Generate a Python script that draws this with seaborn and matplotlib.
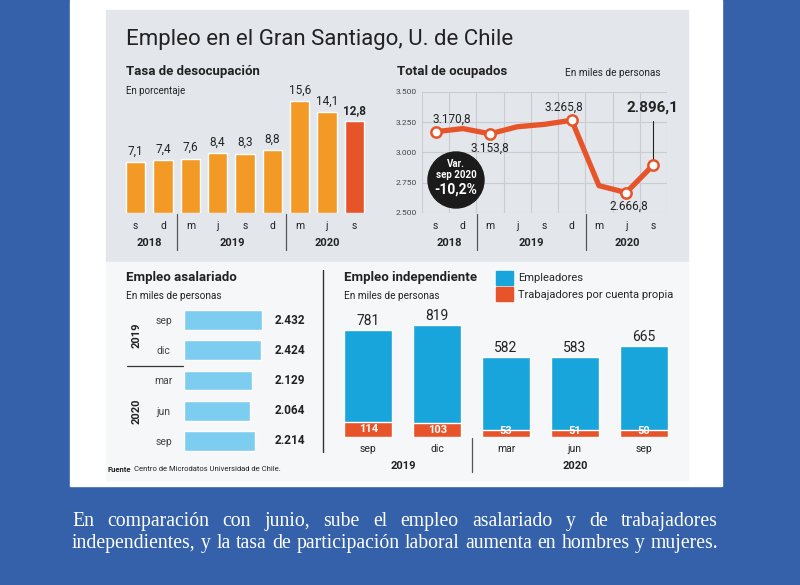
import numpy as np
import matplotlib
matplotlib.use("Agg")
import matplotlib.pyplot as plt
import matplotlib.transforms as mtrans
from matplotlib.patches import Rectangle, Circle, Patch
import seaborn as sns

# ---- data ----
unemp_ticks = ["s", "d", "m", "j", "s", "d", "m", "j", "s"]
unemp_rate = [7.1, 7.4, 7.6, 8.4, 8.3, 8.8, 15.6, 14.1, 12.8]

occ_ticks = ["s", "d", "m", "j", "s", "d", "m", "j", "s"]
occupied = [3170.8, 3197, 3153.8, 3212, 3232, 3265.8, 2724, 2666.8, 2896.1]
occ_marked = [0, 2, 5, 7, 8]

sal_months = ["sep", "dic", "mar", "jun", "sep"]
salaried = [2432, 2424, 2129, 2064, 2214]

ind_months = ["sep", "dic", "mar", "jun", "sep"]
ind_total = [781, 819, 582, 583, 665]
ind_own = [114, 103, 53, 51, 50]

W, H = 800, 585
BLUE_BG = "#3461aa"
ORANGE = "#f39a26"
RED = "#e8542a"
LBLUE = "#7dcdf0"
CYAN = "#18a5db"
DARK = "#222222"

sns.set_theme(style="white")
plt.rcParams["font.family"] = ["Roboto", "DejaVu Sans"]


def num(v, dec=1):
    s = f"{v:,.{dec}f}"
    return s.replace(",", "X").replace(".", ",").replace("X", ".")


def rect(x0, y0, x1, y1):
    return [x0 / W, 1 - y1 / H, (x1 - x0) / W, (y1 - y0) / H]


def clean(ax):
    ax.set_xlabel("")
    ax.set_ylabel("")
    ax.patch.set_alpha(0)
    for s in ax.spines.values():
        s.set_visible(False)


fig = plt.figure(figsize=(W / 100, H / 100), dpi=100)
fig.patch.set_facecolor(BLUE_BG)

bg = fig.add_axes([0, 0, 1, 1])
bg.set_xlim(0, W)
bg.set_ylim(H, 0)
bg.axis("off")
bg.add_patch(Rectangle((70, 0), 652, 486, color="white", zorder=0))
bg.add_patch(Rectangle((106, 10), 582, 252, color="#e3e7ec", zorder=0))
bg.add_patch(Rectangle((106, 262), 582, 218, color="#f6f7f8", zorder=0))

# titles
bg.text(126, 40, "Empleo en el Gran Santiago, U. de Chile", fontsize=16,
        color=DARK, va="center")
bg.text(126, 72, "Tasa de desocupación", fontsize=9.5, fontweight="bold",
        color=DARK, va="center")
bg.text(126, 91, "En porcentaje", fontsize=7, color=DARK, va="center")
bg.text(397, 72, "Total de ocupados", fontsize=9.5, fontweight="bold",
        color=DARK, va="center")
bg.text(565, 73, "En miles de personas", fontsize=7.2, color=DARK, va="center")
bg.text(126, 278, "Empleo asalariado", fontsize=9.5, fontweight="bold",
        color=DARK, va="center")
bg.text(126, 296, "En miles de personas", fontsize=7.2, color=DARK, va="center")
bg.text(344, 278, "Empleo independiente", fontsize=9.5, fontweight="bold",
        color=DARK, va="center")
bg.text(344, 296, "En miles de personas", fontsize=7.2, color=DARK, va="center")
bg.text(107, 469, "Fuente", fontsize=5.5, fontweight="bold", color=DARK, va="center")
bg.text(134, 469, "Centro de Microdatos Universidad de Chile.", fontsize=5.5,
        color=DARK, va="center")

# ---- chart 1: unemployment rate ----
ax1 = fig.add_axes(rect(122, 84, 368, 213))
pos = list(range(len(unemp_rate)))
colors1 = [ORANGE] * (len(unemp_rate) - 1) + [RED]
sns.barplot(x=pos, y=unemp_rate, hue=pos, palette=colors1, legend=False,
            width=0.7, saturation=1, ax=ax1)
ax1.set_xlim(-0.5, len(pos) - 0.5)
ax1.set_ylim(0, 18)
for i, v in enumerate(unemp_rate):
    last = i == len(unemp_rate) - 1
    ax1.text(i, v + 0.6, num(v), ha="center", va="bottom", fontsize=8.5,
             color=DARK, fontweight="bold" if last else "normal")
ax1.set_xticks(pos, unemp_ticks)
ax1.set_yticks([])
ax1.tick_params(axis="x", length=0, pad=6, labelsize=7.5, colors=DARK)
clean(ax1)

# ---- chart 2: total employed ----
ax2 = fig.add_axes(rect(422, 92, 667, 212.7))
sns.lineplot(x=list(range(len(occupied))), y=occupied, color=RED, lw=3.8, ax=ax2)
ax2.scatter(occ_marked, [occupied[i] for i in occ_marked], s=55, facecolor="white",
            edgecolor=RED, linewidth=1.8, zorder=5)
ax2.set_xlim(-0.5, len(occupied) - 0.5)
ax2.set_ylim(2500, 3500)
ax2.set_yticks([2500, 2750, 3000, 3250, 3500],
               [num(v, 0) for v in [2500, 2750, 3000, 3250, 3500]])
ax2.set_xticks(range(len(occ_ticks)), occ_ticks)
ax2.set_xticks(np.arange(-0.5, len(occupied), 1), minor=True)
ax2.grid(which="minor", axis="x", color="#c9cdd2", lw=0.8)
ax2.grid(which="major", axis="y", color="#c9cdd2", lw=0.8)
ax2.tick_params(axis="x", which="both", length=0, pad=6, labelsize=7.5, colors=DARK)
ax2.tick_params(axis="y", length=0, pad=4, labelsize=6, colors="#444444")
clean(ax2)
ax2.text(0.6, occupied[0] + 75, num(occupied[0]), ha="center", fontsize=8.5, color=DARK)
ax2.text(2.0, occupied[2] - 70, num(occupied[2]), ha="center", va="top", fontsize=8.5, color=DARK)
ax2.text(4.7, occupied[5] + 80, num(occupied[5]), ha="center", fontsize=8.5, color=DARK)
ax2.text(7.1, occupied[7] - 60, num(occupied[7]), ha="center", va="top", fontsize=8.5, color=DARK)
ax2.text(7.95, 3430, num(occupied[8]), ha="center", va="top", fontsize=11,
         fontweight="bold", color=DARK)
ax2.plot([8, 8], [occupied[8] + 40, 3260], color=DARK, lw=0.8)

# year labels & separators for top charts
for x, t in [(149, "2018"), (232, "2019"), (327, "2020"),
             (449, "2018"), (531, "2019"), (627, "2020")]:
    bg.text(x, 243, t, ha="center", va="center", fontsize=8, fontweight="bold",
            color=DARK)
for x in [177, 286, 477, 586]:
    bg.plot([x, x], [214, 250], color="#555555", lw=0.9)

# ---- chart 3: salaried ----
ax3 = fig.add_axes(rect(184.3, 305, 320, 456))
rows = list(range(len(salaried)))
sns.barplot(x=salaried, y=rows, orient="h", color=LBLUE, saturation=1,
            width=0.66, ax=ax3)
ax3.set_ylim(len(rows) - 0.5, -0.5)
ax3.set_xlim(0, 4270)
ax3.set_yticks(rows, sal_months)
for lbl in ax3.get_yticklabels():
    lbl.set_horizontalalignment("center")
ax3.tick_params(axis="y", length=0, pad=15, labelsize=7.5, colors="#444444")
ax3.set_xticks([])
clean(ax3)
tr3 = mtrans.blended_transform_factory(ax3.transAxes, ax3.transData)
for i, v in enumerate(salaried):
    ax3.text(0.89, i, num(v, 0), transform=tr3, ha="right", va="center",
             fontsize=8.5, fontweight="bold", color=DARK)
bg.text(137, 335, "2019", rotation=90, ha="center", va="center", fontsize=8,
        fontweight="bold", color=DARK)
bg.text(137, 411, "2020", rotation=90, ha="center", va="center", fontsize=8,
        fontweight="bold", color=DARK)
bg.plot([127, 183], [366, 366], color="#333333", lw=0.9)
bg.plot([323, 323], [270, 452], color="#333333", lw=1.0)

# ---- chart 4: independent ----
ax4 = fig.add_axes(rect(334, 313.6, 678, 437.3))
cols = list(range(len(ind_total)))
sns.barplot(x=cols, y=ind_total, color=CYAN, saturation=1, width=0.7, ax=ax4)
sns.barplot(x=cols, y=ind_own, color=RED, saturation=1, width=0.7, ax=ax4)
ax4.set_xlim(-0.5, len(cols) - 0.5)
ax4.set_ylim(0, 900)
for i, (t, o) in enumerate(zip(ind_total, ind_own)):
    ax4.text(i, t + 15, str(t), ha="center", va="bottom", fontsize=10, color=DARK)
    ax4.text(i, max(o / 2, 48), str(o), ha="center", va="center", fontsize=8,
             fontweight="bold", color="white")
ax4.set_xticks(cols, ind_months)
ax4.set_yticks([])
ax4.tick_params(axis="x", length=0, pad=5, labelsize=7.5, colors=DARK)
clean(ax4)
bg.text(403, 466, "2019", ha="center", va="center", fontsize=8, fontweight="bold",
        color=DARK)
bg.text(575, 466, "2020", ha="center", va="center", fontsize=8, fontweight="bold",
        color=DARK)
bg.plot([472, 472], [438, 472], color="#555555", lw=0.9)
fig.legend(handles=[Patch(color=CYAN, label="Empleadores"),
                    Patch(color=RED, label="Trabajadores por cuenta propia")],
           loc="upper left", bbox_to_anchor=(496 / W, 1 - 271 / H), frameon=False,
           fontsize=8, handlelength=1.5, handleheight=1.5, handletextpad=0.45,
           labelspacing=0.25, borderaxespad=0, borderpad=0)

# ---- overlay: badge ----
top = fig.add_axes([0, 0, 1, 1])
top.set_xlim(0, W)
top.set_ylim(H, 0)
top.axis("off")
top.add_patch(Circle((456, 180), 28, color="#1b1b1b"))
top.text(456, 164, "Var.", ha="center", va="center", fontsize=7, color="white",
         fontweight="bold")
top.text(456, 175, "sep 2020", ha="center", va="center", fontsize=7, color="white",
         fontweight="bold")
top.text(456, 190, "-10,2%", ha="center", va="center", fontsize=10, color="white",
         fontweight="bold")

# ---- caption ----
cap_lines = ["En comparación con junio, sube el empleo asalariado y de trabajadores",
             "independientes, y la tasa de participación laboral aumenta en hombres y mujeres."]
renderer = fig.canvas.get_renderer()
for y, line in zip([526, 548], cap_lines):
    words = line.split()
    texts = [top.text(0, y, w, fontsize=14.2, color="white", va="baseline",
                      family=["Liberation Serif", "DejaVu Serif"]) for w in words]
    widths = [t.get_window_extent(renderer).width for t in texts]
    gap = (718 - 72 - sum(widths)) / (len(words) - 1)
    x = 72
    for t, w in zip(texts, widths):
        t.set_x(x)
        x += w + gap

fig.savefig("out.png", dpi=100, facecolor=fig.get_facecolor())
